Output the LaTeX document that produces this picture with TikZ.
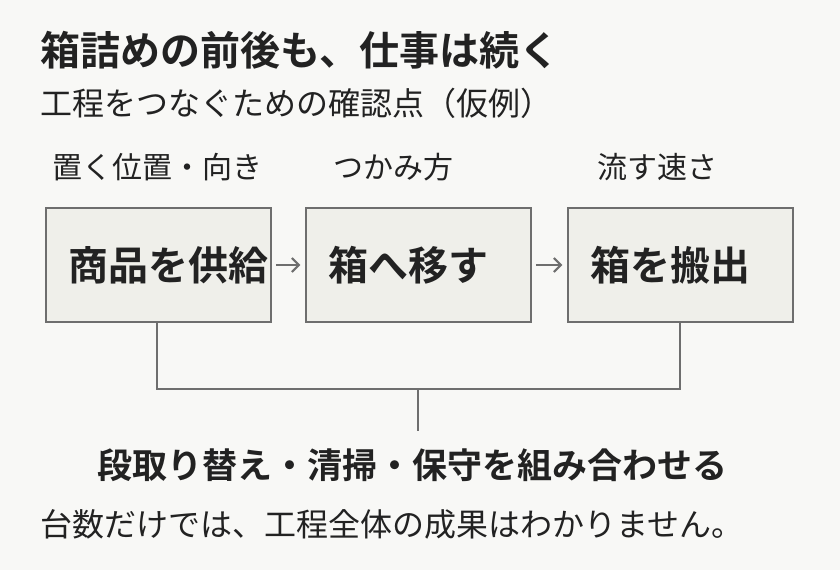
\documentclass[tikz,border=0pt]{standalone}
\usepackage{fontspec}
\setmainfont{Noto Sans CJK JP}
\newfontfamily\jpbold{Noto Sans CJK JP Bold}
\usetikzlibrary{positioning,arrows.meta}
\definecolor{bgcol}{HTML}{F8F8F6}
\definecolor{boxfill}{HTML}{EFEFEA}
\definecolor{linecol}{HTML}{6E6E6E}
\definecolor{txt}{HTML}{222222}
\tikzset{
  stage/.style={draw=linecol, line width=1.5pt, fill=boxfill, minimum width=225pt,
    minimum height=114pt},
  stagetext/.style={anchor=west, text=txt, inner sep=0, font=\jpbold\fontsize{40}{42}\selectfont},
  hint/.style={anchor=west, text=txt, inner sep=0, font=\fontsize{30}{32}\selectfont},
  link/.style={draw=linecol, line width=2pt}
}
\begin{document}
\begin{tikzpicture}[x=1pt,y=-1pt]
\fill[bgcol] (0,0) rectangle (840,570);
\useasboundingbox (0,0) rectangle (840,570);

\node[anchor=west, text=txt, font=\jpbold\fontsize{40}{42}\selectfont, inner sep=0] (title) at (40,50) {箱詰めの前後も、仕事は続く};
\node[anchor=west, text=txt, font=\fontsize{32}{34}\selectfont, inner sep=0] (sub) at (40,103) {工程をつなぐための確認点（仮例）};

\node[stage] (feed) at (158.5,265) {};
\node[stagetext] (feedtext) at (68,265) {商品を供給};
\node[stage] (move) at (418.5,265) {};
\node[stagetext] (movetext) at (328,265) {箱へ移す};
\node[stage] (out) at (680.5,265) {};
\node[stagetext] (outtext) at (590,265) {箱を搬出};

\node[hint] (h1) at (52,167) {置く位置・向き};
\node[hint] (h2) at (333,167) {つかみ方};
\node[hint] (h3) at (597,167) {流す速さ};

\draw[link, -{Straight Barb[length=7pt,width=14pt]}, shorten <=4pt, shorten >=5pt] (feed) -- (move);
\draw[link, -{Straight Barb[length=7pt,width=14pt]}, shorten <=4pt, shorten >=5pt] (move) -- (out);

\coordinate (jl) at (157,389);
\coordinate (jr) at (680,389);
\coordinate (jm) at (418,389);
\coordinate (stem) at (418,431);
\draw[link] (feed.south -| jl) -- (jl) -- (jr) -- (out.south -| jr);
\draw[link] (jm) -- (stem);

\node[text=txt, font=\jpbold\fontsize{35}{37}\selectfont, inner sep=0] (sum) at (412,465) {段取り替え・清掃・保守を組み合わせる};
\node[anchor=west, text=txt, font=\fontsize{32}{34}\selectfont, inner sep=0] (note) at (40,524) {台数だけでは、工程全体の成果はわかりません。};
\end{tikzpicture}
\end{document}
